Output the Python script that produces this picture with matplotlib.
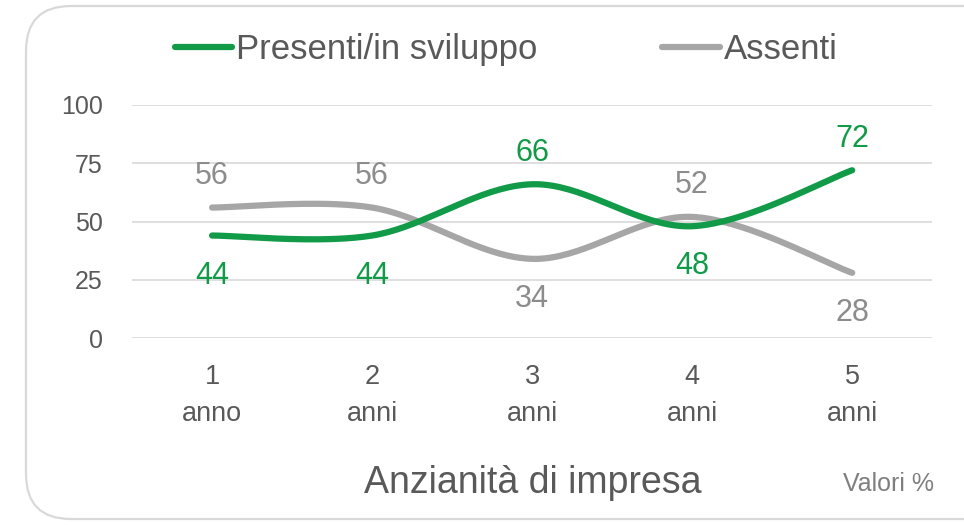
import matplotlib.pyplot as plt
import numpy as np
from matplotlib.patches import FancyBboxPatch

categories = ["1\nanno", "2\nanni", "3\nanni", "4\nanni", "5\nanni"]
presenti = [44, 44, 66, 48, 72]
assenti = [56, 56, 34, 52, 28]
yticks = [0, 25, 50, 75, 100]

GREEN = "#119a48"
GRAY = "#a6a6a6"
TEXT = "#595959"
FONT = "Liberation Sans"


def smooth(x, y, n=40):
    """Excel-like smoothed line (Catmull-Rom as cubic Bezier)."""
    pts = np.column_stack([np.asarray(x, float), np.asarray(y, float)])
    out = []
    for i in range(len(pts) - 1):
        p0 = pts[max(i - 1, 0)]
        p1 = pts[i]
        p2 = pts[i + 1]
        p3 = pts[min(i + 2, len(pts) - 1)]
        c1 = p1 + (p2 - p0) / 6
        c2 = p2 - (p3 - p1) / 6
        t = np.linspace(0, 1, n)[:, None]
        seg = (1 - t) ** 3 * p1 + 3 * (1 - t) ** 2 * t * c1 + 3 * (1 - t) * t ** 2 * c2 + t ** 3 * p2
        out.append(seg if i == 0 else seg[1:])
    out = np.vstack(out)
    return out[:, 0], out[:, 1]


fig = plt.figure(figsize=(9.64, 5.25), dpi=100)

# rounded frame around the chart (pixel coordinates)
bg = fig.add_axes([0, 0, 1, 1])
bg.set_xlim(0, 964)
bg.set_ylim(525, 0)
bg.axis("off")
bg.add_patch(FancyBboxPatch((26, 6), 1000, 513, boxstyle="round,pad=0,rounding_size=45",
                            fc="white", ec="#d9d9d9", lw=1.6))

ax = fig.add_axes([0.137, 0.356, 0.830, 0.444])
ax.set_facecolor("none")
x = np.arange(len(categories))

for vals, other, color, lcolor, name in [
    (assenti, presenti, GRAY, "#8c8c8c", "Assenti"),
    (presenti, assenti, GREEN, GREEN, "Presenti/in sviluppo"),
]:
    sx, sy = smooth(x, vals)
    ax.plot(sx, sy, color=color, lw=4.5, solid_capstyle="round", label=name)
    for xi, v, o in zip(x, vals, other):
        if v > o:
            ax.annotate(str(v), (xi, v), xytext=(0, 12), textcoords="offset points",
                        ha="center", va="bottom", fontsize=22, color=lcolor, family=FONT)
        else:
            ax.annotate(str(v), (xi, v), xytext=(0, -18), textcoords="offset points",
                        ha="center", va="top", fontsize=22, color=lcolor, family=FONT)

ax.set_xlim(-0.5, len(categories) - 0.5)
ax.set_ylim(0, 100)
ax.set_yticks(yticks)
ax.set_xticks(x)
ax.set_xticklabels(categories, fontsize=19.5, color=TEXT, family=FONT, linespacing=1.55)
ax.tick_params(axis="y", labelsize=18, colors=TEXT, length=0, pad=21)
ax.tick_params(axis="x", length=0, pad=19)
for lab in ax.get_yticklabels():
    lab.set_family(FONT)
ax.grid(axis="y", color="#d9d9d9", lw=1.2)
ax.set_axisbelow(True)
for s in ax.spines.values():
    s.set_visible(False)

handles, labels = ax.get_legend_handles_labels()
fig.legend(handles[::-1], labels[::-1], loc="center", bbox_to_anchor=(0.525, 0.905), ncol=2,
           frameon=False, handlelength=1.65, handletextpad=0.12, columnspacing=3.6,
           prop={"family": FONT, "size": 25}, labelcolor=TEXT)

fig.text(0.553, 0.08, "Anzianità di impresa", ha="center", va="center", fontsize=27,
         color=TEXT, family=FONT)
fig.text(0.922, 0.078, "Valori %", ha="center", va="center", fontsize=18,
         color="#7f7f7f", family=FONT)

fig.savefig("out.png", dpi=100)
